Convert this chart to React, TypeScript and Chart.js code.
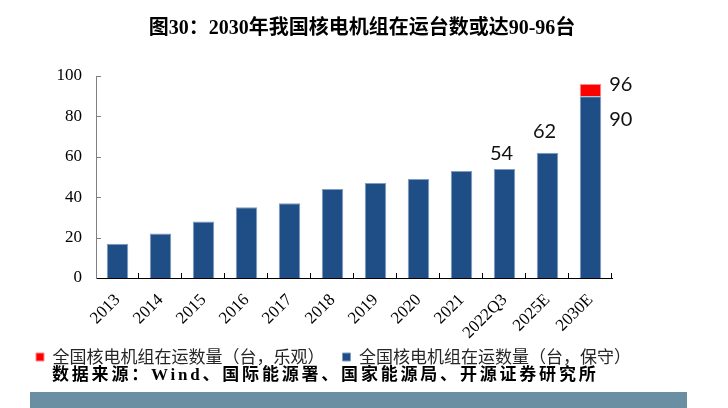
import React, { useEffect, useRef } from "react";
import { Chart, registerables, layouts } from "chart.js";

Chart.register(...registerables);

const categories = ["2013", "2014", "2015", "2016", "2017", "2018", "2019", "2020", "2021", "2022Q3", "2025E", "2030E"];
const conservativeValues = [17, 22, 28, 35, 37, 44, 47, 49, 53, 54, 62, 90];
const optimisticExtra = [0, 0, 0, 0, 0, 0, 0, 0, 0, 0, 0, 6];
const conservativeLabels: (string | null)[] = [null, null, null, null, null, null, null, null, null, "54", "62", "90"];
const optimisticLabels: (string | null)[] = [null, null, null, null, null, null, null, null, null, null, null, "96"];
const yTicks = [0, 20, 40, 60, 80, 100];

const titleText = "图30：2030年我国核电机组在运台数或达90-96台";
const sourceText = "数据来源：Wind、国际能源署、国家能源局、开源证券研究所";
const optimisticName = "全国核电机组在运数量（台，乐观）";
const conservativeName = "全国核电机组在运数量（台，保守）";

const BLUE = "#1F4E86";
const RED = "#FF0000";

const rightSpacerPlugin = {
  id: "rightSpacer",
  beforeInit(chart: any) {
    const box: any = {
      options: {},
      position: "right",
      weight: 0,
      fullSize: false,
      left: 0,
      top: 0,
      right: 0,
      bottom: 0,
      width: 76,
      height: 0,
      update(_maxWidth: number, maxHeight: number) {
        this.width = 76;
        this.height = maxHeight;
      },
      isHorizontal() {
        return false;
      },
      getPadding() {
        return { top: 0, left: 0, right: 0, bottom: 0 };
      },
      draw() {},
    };
    layouts.addBox(chart, box);
  },
};

const legendShiftPlugin = {
  id: "legendShift",
  afterLayout(chart: any) {
    const lg = chart.legend;
    if (lg) {
      lg.top -= 9.5;
      lg.bottom -= 9.5;
    }
  },
};

const axisTicksPlugin = {
  id: "axisTicks",
  afterDraw(chart: any) {
    const { ctx, scales } = chart;
    const x = scales.x;
    const y = scales.y;
    ctx.save();
    ctx.lineWidth = 1;
    ctx.strokeStyle = "#808080";
    ctx.beginPath();
    yTicks.forEach((v) => {
      if (v === 0) return;
      const py = Math.round(y.getPixelForValue(v)) + 0.5;
      ctx.moveTo(x.left, py);
      ctx.lineTo(x.left + 5, py);
    });
    ctx.stroke();
    ctx.strokeStyle = "#000000";
    ctx.beginPath();
    const n = categories.length;
    const step = (x.right - x.left) / n;
    for (let i = 1; i <= n; i++) {
      const px = Math.round(x.left + i * step) - 0.5;
      ctx.moveTo(px, y.bottom);
      ctx.lineTo(px, y.bottom - 5);
    }
    ctx.stroke();
    ctx.restore();
  },
};

const dataLabelPlugin = {
  id: "dataLabels",
  afterDatasetsDraw(chart: any) {
    const { ctx } = chart;
    ctx.save();
    ctx.font = '20px "Lato", "Liberation Sans", sans-serif';
    ctx.fillStyle = "#111111";
    const last = categories.length - 1;
    const sets = [conservativeLabels, optimisticLabels];
    sets.forEach((labels, di) => {
      const meta = chart.getDatasetMeta(di);
      labels.forEach((lab, i) => {
        if (!lab) return;
        const el = meta.data[i];
        const props = el.getProps(["x", "y", "width"], true);
        if (i === last) {
          ctx.textAlign = "left";
          ctx.textBaseline = "middle";
          const dy = di === 0 ? 23 : 0;
          ctx.fillText(lab, props.x + props.width / 2 + 8, props.y + dy);
        } else {
          ctx.textAlign = "center";
          ctx.textBaseline = "alphabetic";
          const gap = i === 9 ? 9 : 15;
          ctx.fillText(lab, props.x - 3, props.y - gap);
        }
      });
    });
    ctx.restore();
  },
};

export default function App() {
  const canvasRef = useRef<HTMLCanvasElement | null>(null);

  useEffect(() => {
    const canvas = canvasRef.current;
    if (!canvas) return;
    const chart = new Chart(canvas, {
      type: "bar",
      data: {
        labels: categories,
        datasets: [
          {
            label: conservativeName,
            data: conservativeValues,
            backgroundColor: BLUE,
            borderColor: "#7F9CC2",
            borderWidth: 1,
            stack: "s",
          },
          {
            label: optimisticName,
            data: optimisticExtra,
            backgroundColor: RED,
            borderColor: "#FF8A8A",
            borderWidth: 1,
            stack: "s",
          },
        ],
      },
      options: {
        responsive: false,
        animation: false,
        devicePixelRatio: 1,
        layout: { padding: { left: 18, right: 40, top: 76, bottom: 23 } },
        datasets: {
          bar: { categoryPercentage: 1, barPercentage: 0.5 },
        },
        plugins: {
          title: { display: false },
          tooltip: { enabled: false },
          legend: {
            display: true,
            position: "bottom",
            align: "start",
            reverse: true,
            labels: {
              boxWidth: 8,
              boxHeight: 8,
              padding: 18,
              color: "#262626",
              font: { family: '"Noto Sans CJK SC", sans-serif', size: 17 },
            },
          },
        },
        scales: {
          x: {
            stacked: true,
            grid: { display: false, drawTicks: false },
            border: { display: true, color: "#000000", width: 1 },
            ticks: {
              color: "#000000",
              minRotation: 45,
              maxRotation: 45,
              autoSkip: false,
              padding: 12,
              font: { family: '"Liberation Serif", serif', size: 17 },
            },
            afterFit: (s: any) => {
              s.height = 62;
            },
          },
          y: {
            stacked: true,
            min: 0,
            max: 100,
            grid: { display: false, drawTicks: false },
            border: { display: true, color: "#808080", width: 1 },
            ticks: {
              stepSize: 20,
              color: "#000000",
              padding: 14,
              font: { family: '"Liberation Serif", serif', size: 17 },
            },
            afterFit: (s: any) => {
              s.width = 78;
            },
          },
        },
      },
      plugins: [rightSpacerPlugin, legendShiftPlugin, axisTicksPlugin, dataLabelPlugin],
    } as any);
    return () => chart.destroy();
  }, []);

  return (
    <div style={{ position: "fixed", left: 0, top: 0, width: 728, height: 408, background: "#ffffff", overflow: "hidden" }}>
      <canvas ref={canvasRef} width={728} height={408} style={{ position: "absolute", left: 0, top: 0 }} />
      <div
        style={{
          position: "absolute",
          left: 0,
          top: 15,
          width: 724,
          textAlign: "center",
          fontFamily: '"Liberation Serif", "Noto Sans CJK SC", serif',
          fontWeight: "bold",
          fontSize: 20,
          lineHeight: "24px",
          color: "#000000",
        }}
      >
        {titleText}
      </div>
      <div
        style={{
          position: "absolute",
          left: 52,
          top: 364,
          fontFamily: '"Liberation Serif", "Noto Sans CJK SC", serif',
          fontWeight: "bold",
          fontSize: 17,
          lineHeight: "22px",
          letterSpacing: "2.8px",
          color: "#000000",
          whiteSpace: "nowrap",
        }}
      >
        {sourceText}
      </div>
      <div style={{ position: "absolute", left: 30, top: 392, width: 657, height: 16, background: "#6B8FA2" }} />
    </div>
  );
}
